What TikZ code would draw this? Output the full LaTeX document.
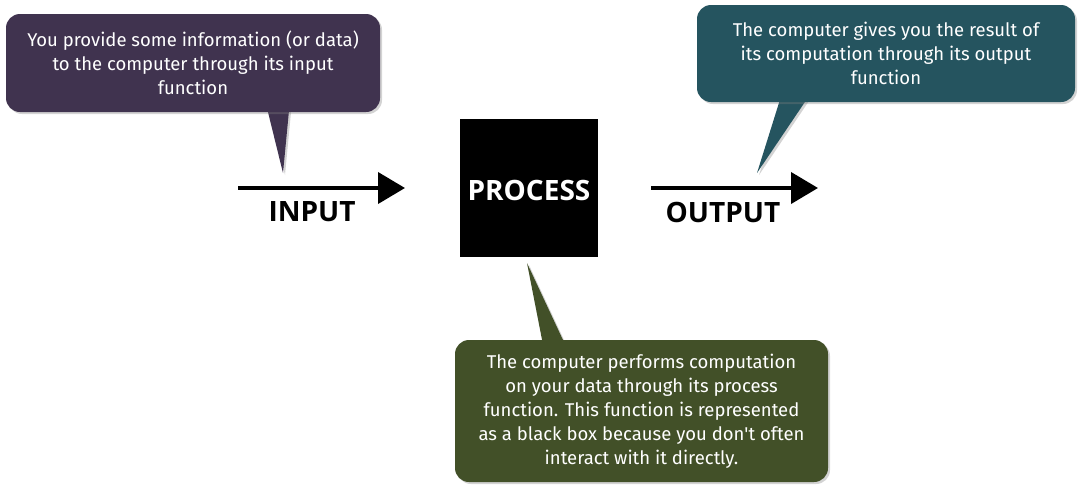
\documentclass[tikz,border=0pt]{standalone}
\usepackage{fontspec}
\setmainfont{Open Sans}
\newfontfamily\bubblefont{Fira Sans}
\usetikzlibrary{shapes,arrows.meta,shadows}
\definecolor{inputcol}{HTML}{40334F}
\definecolor{outputcol}{HTML}{25545F}
\definecolor{processcol}{HTML}{425028}
\tikzset{
  bubble/.style={rounded corners=14pt,fill=#1,text=white,align=center,inner sep=0pt,
    font=\bubblefont\fontsize{18.5}{24}\selectfont,
    drop shadow={opacity=0.35,shadow xshift=2pt,shadow yshift=-2pt}},
  tail/.style={fill=#1,drop shadow={opacity=0.35,shadow xshift=2pt,shadow yshift=-2pt}},
  flow/.style={line width=4pt,-{Triangle[length=27pt,width=31pt]}},
  label/.style={font=\bfseries\fontsize{28}{30}\selectfont}
}
\begin{document}
\begin{tikzpicture}[x=1pt,y=-1pt]
\useasboundingbox (0,0) rectangle (1081,488);

% tails first, bubbles on top
\coordinate (intip) at (283,173);
\coordinate (outtip) at (757,173);
\coordinate (proctip) at (527,263);
\fill[tail=inputcol] (265,100) -- (290,100) -- (intip) -- cycle;
\fill[tail=outputcol] (783,90) -- (813,90) -- (outtip) -- cycle;
\fill[tail=processcol] (545,355) -- (570,355) -- (proctip) -- cycle;

\node[bubble=inputcol,minimum width=374pt,minimum height=98pt] (inbubble) at (193,63)
  {You provide some information (or data)\\to the computer through its input\\function};
\node[bubble=outputcol,minimum width=378pt,minimum height=97pt] (outbubble) at (886,53.5)
  {The computer gives you the result of\\its computation through its output\\function};
\node[bubble=processcol,minimum width=373pt,minimum height=142pt] (procbubble) at (641.5,411)
  {The computer performs computation\\on your data through its process\\function. This function is represented\\as a black box because you don't often\\interact with it directly.};

\node[fill=black,text=white,minimum size=138pt,label] (process) at (529,187.5) {\raisebox{-3pt}[\height][\depth]{PROCESS}};

\coordinate (inA) at (238,188);
\coordinate (inB) at (405,188);
\coordinate (outA) at (651,188);
\coordinate (outB) at (818,188);
\draw[flow] (inA) -- (inB);
\draw[flow] (outA) -- (outB);
\node[label] (input) at (312,212) {INPUT};
\node[label] (output) at (723,212) {OUTPUT};
\end{tikzpicture}
\end{document}
